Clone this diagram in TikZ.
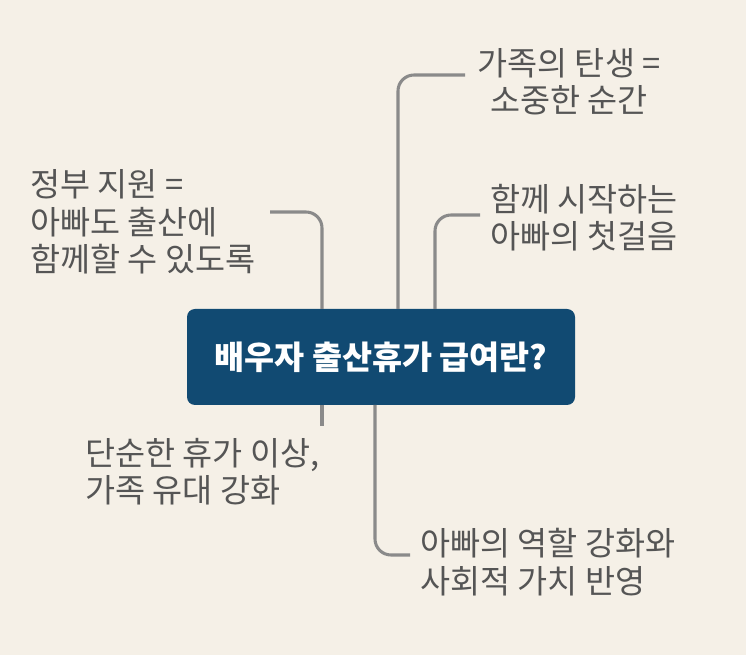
\documentclass[tikz,border=0pt]{standalone}
\usepackage{fontspec}
\setmainfont{Noto Sans CJK KR}
\definecolor{bgcol}{HTML}{F5F0E7}
\definecolor{boxcol}{HTML}{114A72}
\definecolor{linecol}{HTML}{8A8A8A}
\definecolor{textcol}{HTML}{555555}
\tikzset{
  leaf/.style={text=textcol, font=\fontsize{24.5}{28}\selectfont, align=left, inner sep=0pt},
  branch/.style={draw=linecol, line width=2.3pt, rounded corners=12pt}
}
\begin{document}
\begin{tikzpicture}[x=0.75pt, y=-0.75pt]
  % Background
  \fill[bgcol] (0,0) rectangle (746,655);
  \useasboundingbox (0,0) rectangle (746,655);

  % Center node
  \node[fill=boxcol, rounded corners=6pt, minimum width=291pt, minimum height=72pt,
        text=white, font=\fontsize{24.5}{28}\selectfont\bfseries] (center) at (381,357) {배우자 출산휴가 급여란?};

  % Leaf nodes
  \node[leaf, align=center] (birth) at (569,82) {가족의 탄생 =\\소중한 순간};
  \node[leaf, anchor=west] (first) at (490,218) {함께 시작하는\\아빠의 첫걸음};
  \node[leaf, anchor=west] (gov) at (30,222) {정부 지원 =\\아빠도 출산에\\함께할 수 있도록};
  \node[leaf, anchor=west] (bond) at (85,472) {단순한 휴가 이상,\\가족 유대 강화};
  \node[leaf, anchor=west] (role) at (420,562) {아빠의 역할 강화와\\사회적 가치 반영};

  % Edges
  \coordinate (c1) at (398,309);
  \coordinate (c2) at (435,309);
  \coordinate (c3) at (322,309);
  \coordinate (c4) at (322,405);
  \coordinate (c5) at (375,405);
  \draw[branch] (c1) -- (398,75) -- (465,75);
  \draw[branch] (c2) -- (435,215) -- (480,215);
  \draw[branch] (c3) -- (322,212) -- (270,212);
  \draw[branch] (c4) -- (322,426);
  \draw[branch] (c5) -- (375,555) -- (410,555);
\end{tikzpicture}
\end{document}
